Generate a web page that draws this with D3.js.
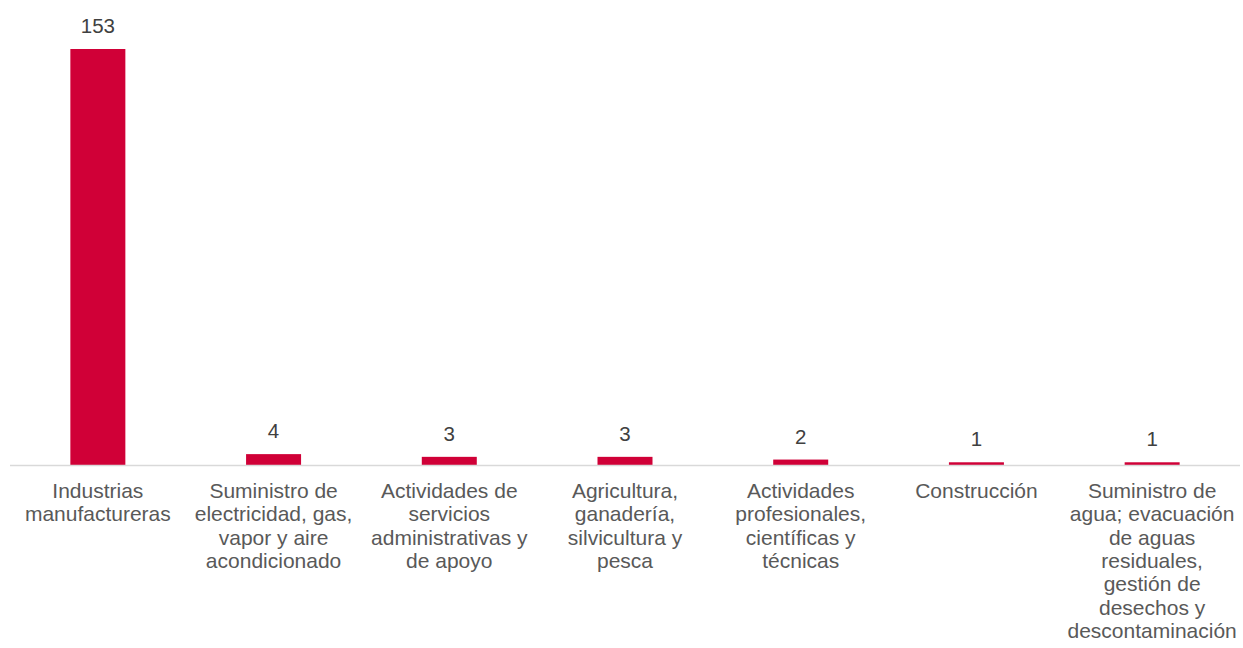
<!DOCTYPE html>
<html><head><meta charset="utf-8">
<script src="https://cdn.jsdelivr.net/npm/d3@7"></script>
<style>html,body{margin:0;padding:0;background:#fff;}svg{display:block;}</style>
</head><body>
<svg id="c" width="1243" height="648"></svg>
<script>
const categories = [
  "Industrias\nmanufactureras",
  "Suministro de\nelectricidad, gas,\nvapor y aire\nacondicionado",
  "Actividades de\nservicios\nadministrativas y\nde apoyo",
  "Agricultura,\nganadería,\nsilvicultura y\npesca",
  "Actividades\nprofesionales,\ncientíficas y\ntécnicas",
  "Construcción",
  "Suministro de\nagua; evacuación\nde aguas\nresiduales,\ngestión de\ndesechos y\ndescontaminación"
];
const values = [153, 4, 3, 3, 2, 1, 1];

const svg = d3.select("#c");
const x = d3.scaleBand().domain(categories).range([10, 1240]).paddingInner(0.687).paddingOuter(0.3435);
const y = d3.scaleLinear().domain([0, 153]).range([465, 49]);

svg.selectAll("rect.bar").data(values).join("rect")
  .attr("class","bar")
  .attr("x",(d,i)=>x(categories[i]))
  .attr("width",x.bandwidth())
  .attr("y",d=>y(d))
  .attr("height",d=>y(0)-y(d))
  .attr("fill","#d00037");

svg.append("line").attr("x1",10).attr("x2",1240).attr("y1",465.5).attr("y2",465.5)
  .attr("stroke","#d9d9d9").attr("stroke-width",1.5);

svg.selectAll("text.val").data(values).join("text")
  .attr("class","val")
  .attr("x",(d,i)=>x(categories[i])+x.bandwidth()/2)
  .attr("y",d=>y(d)-16)
  .attr("text-anchor","middle")
  .attr("font-family","Liberation Sans, Arial, sans-serif")
  .attr("font-size",20.5)
  .attr("fill","#404040")
  .text(d=>d);

const lab = svg.selectAll("text.cat").data(categories).join("text")
  .attr("class","cat")
  .attr("text-anchor","middle")
  .attr("font-family","Liberation Sans, Arial, sans-serif")
  .attr("font-size",21)
  .attr("fill","#595959");
lab.each(function(c){
  const t = d3.select(this);
  const cx = x(c)+x.bandwidth()/2;
  c.split("\n").forEach((s,j)=>{
    t.append("tspan").attr("x",cx).attr("y",498+j*23.3).text(s);
  });
});
</script>
</body></html>
